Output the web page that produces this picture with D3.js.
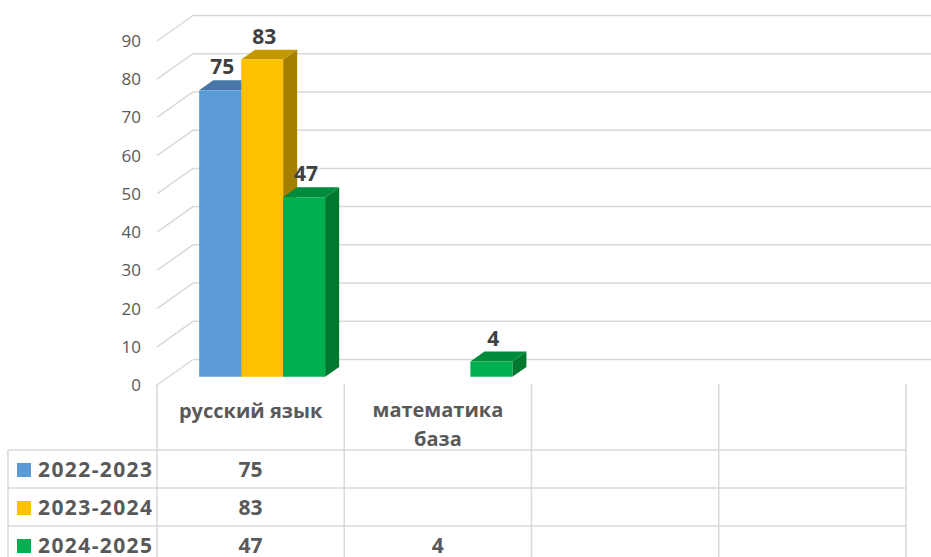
<!DOCTYPE html>
<html>
<head>
<meta charset="utf-8">
<script src="https://cdn.jsdelivr.net/npm/d3@7/dist/d3.min.js"></script>
<style>
  html, body { margin: 0; padding: 0; background: #fff; }
  svg { display: block; }
  text { font-family: "Open Sans", "Liberation Sans", sans-serif; }
</style>
</head>
<body>
<svg id="chart" width="931" height="557"></svg>
<script>
const categories = ["русский язык", "математика база", "", ""];
const categoryLines = [["русский язык"], ["математика", "база"], [""], [""]];
const seriesNames = ["2022-2023", "2023-2024", "2024-2025"];
const values2022 = [75, null, null, null];
const values2023 = [83, null, null, null];
const values2024 = [47, 4, null, null];
const yTicks = [0, 10, 20, 30, 40, 50, 60, 70, 80, 90];

const seriesValues = [values2022, values2023, values2024];
const colors = {
  front: ["#5b9bd5", "#ffc000", "#00b050"],
  top:   ["#4677a8", "#c49700", "#008a3b"],
  side:  ["#3b6691", "#a57f00", "#00782f"]
};

const W = 931, H = 557;
const svg = d3.select("#chart");
const grid = "#d9d9d9";
const textCol = "#595959";

// 3D depth offset (full depth of the plot box)
const DX = 36, DY = -25.5;
const plotLeft = 157, plotRight = 906;

const y = d3.scaleLinear().domain([0, 90]).range([385, 41]);
const x = d3.scaleBand().domain(d3.range(categories.length)).range([plotLeft, plotRight]).padding(0);
const xs = d3.scaleBand().domain(d3.range(seriesNames.length)).range([0, x.bandwidth()]).paddingInner(0).paddingOuter(0.73);

function P(px, v, d) { return [px + d * DX, y(v) + d * DY]; }

// Gridlines: back wall + left wall diagonals
const gG = svg.append("g");
yTicks.forEach(t => {
  const a = P(plotLeft, t, 0), b = P(plotLeft, t, 1);
  gG.append("line").attr("x1", a[0]).attr("y1", a[1]).attr("x2", b[0]).attr("y2", b[1])
    .attr("stroke", grid).attr("stroke-width", 1.5);
  const c = P(plotRight, t, 1);
  gG.append("line").attr("x1", b[0]).attr("y1", b[1]).attr("x2", c[0]).attr("y2", c[1])
    .attr("stroke", grid).attr("stroke-width", 1.5);
});

// Y axis labels
svg.append("g").selectAll("text").data(yTicks).join("text")
  .attr("x", 141).attr("y", d => y(d)).attr("dy", "0.35em")
  .attr("text-anchor", "end").attr("font-size", 17).attr("fill", textCol)
  .text(d => d);

// Bars
const d0 = 0.32, d1 = 0.71;
const bars = svg.append("g");
const labels = [];
categories.forEach((c, ci) => {
  seriesValues.forEach((vals, si) => {
    const v = vals[ci];
    if (v == null) return;
    const xl = x(ci) + xs(si), xr = xl + xs.bandwidth();
    const fbl = P(xl, 0, d0), fbr = P(xr, 0, d0), ftl = P(xl, v, d0), ftr = P(xr, v, d0);
    const btl = P(xl, v, d1), btr = P(xr, v, d1), bbr = P(xr, 0, d1);
    const poly = pts => pts.map(p => p.join(",")).join(" ");
    bars.append("polygon").attr("points", poly([ftr, btr, bbr, fbr])).attr("fill", colors.side[si]);
    bars.append("polygon").attr("points", poly([ftl, btl, btr, ftr])).attr("fill", colors.top[si]);
    bars.append("polygon").attr("points", poly([fbl, ftl, ftr, fbr])).attr("fill", colors.front[si]);
    labels.push({x: (ftl[0] + ftr[0]) / 2 + 2, y: ftl[1] - 16, v});
  });
});
svg.append("g").selectAll("text").data(labels).join("text")
  .attr("x", d => d.x).attr("y", d => d.y).attr("text-anchor", "middle")
  .attr("font-size", 21).attr("font-weight", 700).attr("fill", "#404040")
  .text(d => d.v);

// Data table
const tG = svg.append("g");
const rowY = [450, 488, 526, 564];
const colX = x.domain().map(i => x(i)).concat([plotRight]);
colX.forEach(cx => tG.append("line").attr("x1", cx).attr("x2", cx).attr("y1", 384).attr("y2", H)
  .attr("stroke", grid).attr("stroke-width", 1.5));
tG.append("line").attr("x1", 8).attr("x2", 8).attr("y1", rowY[0]).attr("y2", H)
  .attr("stroke", grid).attr("stroke-width", 1.5);
rowY.slice(0, 3).forEach(ry => tG.append("line").attr("x1", 8).attr("x2", plotRight).attr("y1", ry).attr("y2", ry)
  .attr("stroke", grid).attr("stroke-width", 1.5));

// Category headers
categoryLines.forEach((lines, ci) => {
  const cx = x(ci) + x.bandwidth() / 2;
  const startY = lines.length === 1 ? 411 : 410;
  lines.forEach((ln, li) => {
    tG.append("text").attr("x", cx).attr("y", startY + li * 29).attr("dy", "0.35em")
      .attr("text-anchor", "middle").attr("font-size", 20).attr("font-weight", 700)
      .attr("fill", textCol).text(ln);
  });
});

// Legend rows and values
seriesNames.forEach((s, si) => {
  const cy = (rowY[si] + rowY[si + 1]) / 2 + 1;
  tG.append("rect").attr("x", 17).attr("y", cy - 7).attr("width", 14).attr("height", 14).attr("fill", colors.front[si]);
  tG.append("text").attr("x", 38).attr("y", cy).attr("dy", "0.35em").attr("font-size", 21)
    .attr("font-weight", 700).attr("fill", textCol).attr("letter-spacing", 1.4).text(s);
  seriesValues[si].forEach((v, ci) => {
    if (v == null) return;
    tG.append("text").attr("x", x(ci) + x.bandwidth() / 2).attr("y", cy).attr("dy", "0.35em")
      .attr("text-anchor", "middle").attr("font-size", 21).attr("font-weight", 700)
      .attr("fill", textCol).text(v);
  });
});
</script>
</body>
</html>
